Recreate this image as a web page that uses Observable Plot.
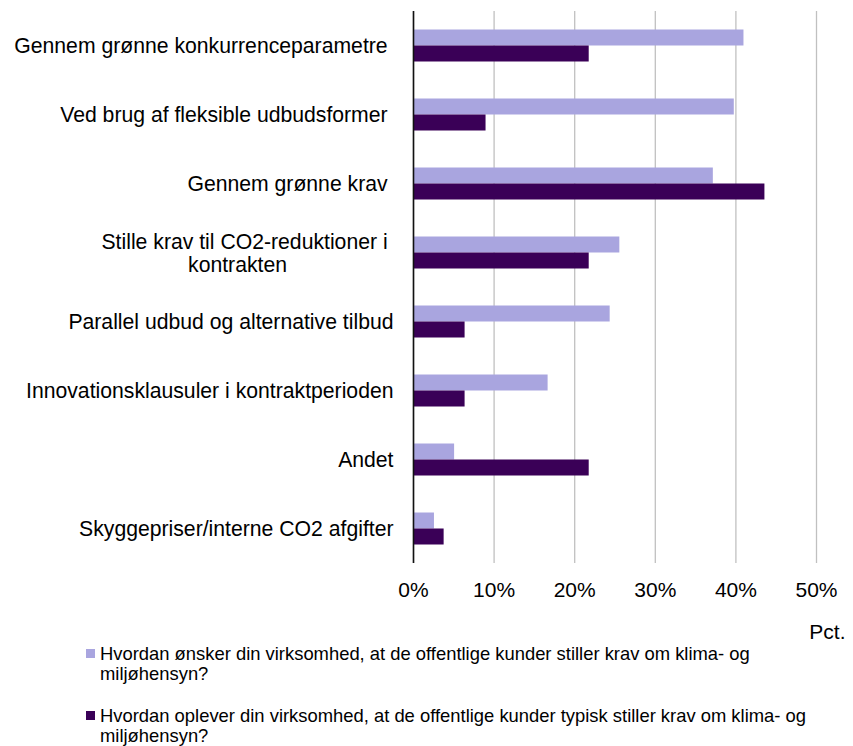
<!DOCTYPE html>
<html>
<head>
<meta charset="utf-8">
<script src="https://cdn.jsdelivr.net/npm/d3@7"></script>
<script src="https://cdn.jsdelivr.net/npm/@observablehq/plot@0.6"></script>
<style>
  html, body { margin: 0; padding: 0; background: #fff; }
  body { width: 853px; height: 746px; overflow: hidden; font-family: "Liberation Sans", Arial, sans-serif; color: #000; }
  #chart svg { display: block; }
  #chart svg text { white-space: pre; }
  .legend { margin-top: -6px; padding-left: 86px; font-size: 18.4px; line-height: 19.5px; }
  .item { position: relative; padding-left: 14px; white-space: pre-line; }
  .item + .item { margin-top: 23px; }
  .sw { position: absolute; left: 0; top: 5px; width: 9px; height: 9px; }
</style>
</head>
<body>
<div id="chart"></div>
<script>
const categories = [
  "Gennem grønne konkurrenceparametre ",
  "Ved brug af fleksible udbudsformer ",
  "Gennem grønne krav ",
  "Stille krav til CO2-reduktioner i kontrakten",
  "Parallel udbud og alternative tilbud",
  "Innovationsklausuler i kontraktperioden",
  "Andet",
  "Skyggepriser/interne CO2 afgifter"
];
// wrapped label lines for the long category
const wrappedLabel = ["Stille krav til CO2-reduktioner i ", "kontrakten"];

const seriesNames = [
  "Hvordan ønsker din virksomhed, at de offentlige kunder stiller krav om klima- og\nmiljøhensyn?",
  "Hvordan oplever din virksomhed, at de offentlige kunder typisk stiller krav om klima- og\nmiljøhensyn?"
];
const wishValues = [0.410, 0.398, 0.372, 0.256, 0.244, 0.167, 0.051, 0.026];
const experienceValues = [0.218, 0.090, 0.436, 0.218, 0.064, 0.064, 0.218, 0.038];
const xTicks = [0, 0.1, 0.2, 0.3, 0.4, 0.5];
const seriesColors = ["#a9a5df", "#3a0057"];
const axisTitle = "Pct.";

const wishRows = categories.map((c, i) => ({category: c, series: seriesNames[0], value: wishValues[i]}));
const expRows = categories.map((c, i) => ({category: c, series: seriesNames[1], value: experienceValues[i]}));

const font = "Liberation Sans, Arial, sans-serif";

const plot = Plot.plot({
  width: 853,
  height: 650,
  marginLeft: 413,
  marginRight: 37,
  marginTop: 11,
  marginBottom: 87,
  style: {fontFamily: font, fontSize: "21.2px", color: "#000", background: "#fff"},
  x: {domain: [0, 0.5]},
  y: {domain: categories, padding: 0},
  color: {domain: seriesNames, range: seriesColors},
  marks: [
    Plot.gridX(xTicks, {stroke: "#c0c0c0", strokeOpacity: 1, strokeWidth: 1.3}),
    Plot.barX(wishRows, {x: "value", y: "category", fill: "series", insetTop: 18.5, insetBottom: 34.5}),
    Plot.barX(expRows, {x: "value", y: "category", fill: "series", insetTop: 34.5, insetBottom: 18.5}),
    Plot.ruleX([0], {stroke: "#111", strokeWidth: 1.6}),
    Plot.axisX({ticks: xTicks, tickFormat: d3.format(".0%"), tickSize: 0, tickPadding: 19, fontSize: 21, label: null}),
    Plot.axisY({tickSize: 0, tickPadding: 20, fontSize: 21.2, label: null,
      tickFormat: d => d === categories[3] ? "" : d}),
    Plot.text([categories[3]], {y: d => d, frameAnchor: "left", text: () => wrappedLabel[0],
      textAnchor: "end", dx: -20, dy: -11, fontSize: 21.2, fill: "#000"}),
    Plot.text([categories[3]], {y: d => d, frameAnchor: "left", text: () => wrappedLabel[1],
      textAnchor: "middle", dx: -176, dy: 12, fontSize: 21.2, fill: "#000"}),
    Plot.text([axisTitle], {frameAnchor: "bottom-right", text: d => d, textAnchor: "end",
      dx: 29, dy: 75.5, fontSize: 21, fill: "#000"})
  ]
});

const chart = document.getElementById("chart");
chart.appendChild(plot);

const legend = document.createElement("div");
legend.className = "legend";
seriesNames.forEach((name, i) => {
  const item = document.createElement("div");
  item.className = "item";
  const sw = document.createElement("span");
  sw.className = "sw";
  sw.style.background = seriesColors[i];
  item.appendChild(sw);
  item.appendChild(document.createTextNode(name));
  legend.appendChild(item);
});
chart.appendChild(legend);
</script>
</body>
</html>
